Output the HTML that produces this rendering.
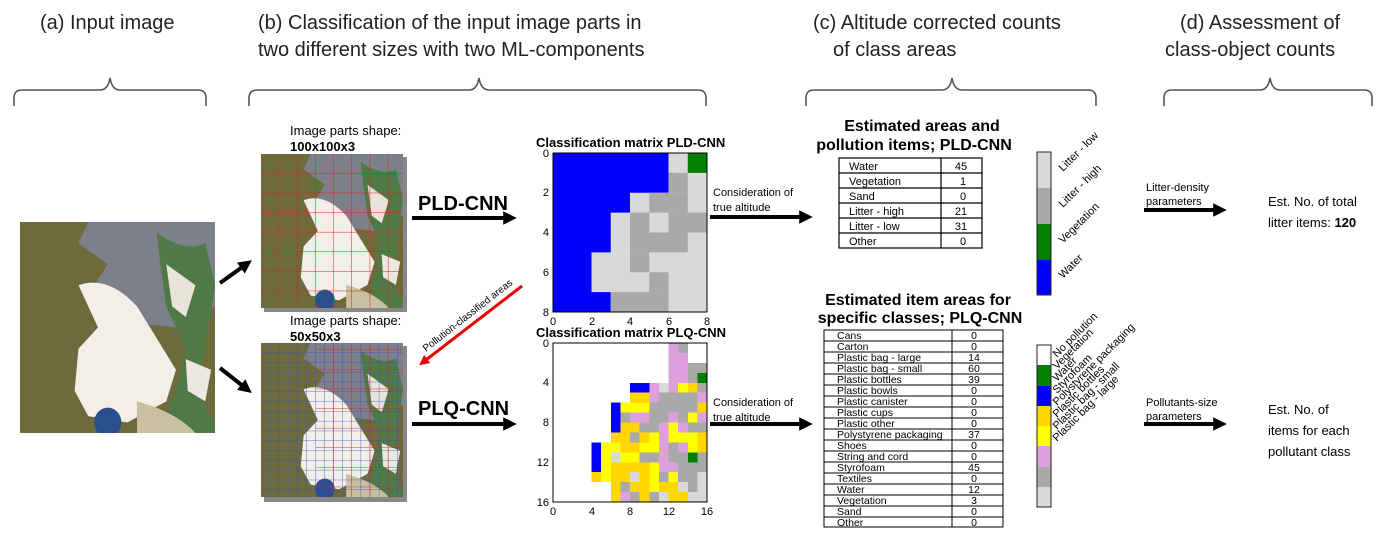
<!DOCTYPE html>
<html><head><meta charset="utf-8"><style>
html,body{margin:0;padding:0;background:#fff}
svg{display:block;font-family:"Liberation Sans",Arial,sans-serif}
</style></head><body>
<svg width="1386" height="536" viewBox="0 0 1386 536">
<defs>
<marker id="ah" markerWidth="4" markerHeight="4" refX="2.2" refY="2" orient="auto" markerUnits="strokeWidth"><path d="M0,0.3 L3.4,2 L0,3.7 z" fill="#000"/></marker>
<marker id="ahr" markerWidth="4" markerHeight="4" refX="2.2" refY="2" orient="auto" markerUnits="strokeWidth"><path d="M0,0.3 L3.4,2 L0,3.7 z" fill="#e00"/></marker>
<pattern id="rg" width="18.2" height="19.6" patternUnits="userSpaceOnUse" x="261" y="154"><path d="M18.2 0V19.6M0 19.6H18.2" stroke="#e02020" stroke-width="1" fill="none"/></pattern>
<pattern id="bg2" width="9.1" height="9.8" patternUnits="userSpaceOnUse" x="261" y="343"><path d="M9.1 0V9.8M0 9.8H9.1" stroke="#3050d0" stroke-width="0.8" fill="none"/></pattern>
<g id="photo">
<rect x="0" y="0" width="100" height="100" fill="#6e6a3c"/>
<path d="M35 0H100V40L80 50 60 48 50 40 38 30 45 20 30 10z" fill="#7d7f8a"/>
<path d="M30 30 Q45 25 60 40 L70 55 80 70 75 85 55 95 35 92 28 80 30 60 40 50z" fill="#f2efe8"/>
<path d="M70 5 Q85 15 95 10 L100 30 95 60 90 80 100 95 V100H70 L80 80 85 60 75 40 72 20z" fill="#4f7a45"/>
<path d="M75 20 L90 30 85 45 78 40z" fill="#e8e4dc"/>
<path d="M85 65 L98 70 95 85 86 80z" fill="#ece8e0"/>
<circle cx="45" cy="95" r="7" fill="#2b4f8e"/>
<path d="M60 85 Q80 90 90 100 H60z" fill="#c8c0a0"/>
</g>
</defs>

<g font-size="20" fill="#222">
<text x="40" y="29">(a) Input image</text>
<text x="258" y="29">(b) Classification of the input image parts  in</text>
<text x="258" y="56">two different sizes with two ML-components</text>
<text x="813" y="29">(c) Altitude corrected counts</text>
<text x="833" y="56">of class areas</text>
<text x="1180" y="29">(d) Assessment of</text>
<text x="1165" y="56">class-object counts</text>
</g>
<g fill="none" stroke="#555" stroke-width="1.6">
<path d="M14 106 V98 Q14 90 22 90 H100 Q108 90 110 78 Q112 90 120 90 H198 Q206 90 206 98 V106"/>
<path d="M249 106 V98 Q249 90 257 90 H469 Q477 90 479 78 Q481 90 489 90 H698 Q706 90 706 98 V106"/>
<path d="M806 106 V98 Q806 90 814 90 H942 Q950 90 952 78 Q954 90 962 90 H1088 Q1096 90 1096 98 V106"/>
<path d="M1164 106 V98 Q1164 90 1172 90 H1260 Q1268 90 1270 78 Q1272 90 1280 90 H1364 Q1372 90 1372 98 V106"/>
</g>

<svg x="20" y="222" width="195" height="211" viewBox="0 0 100 100" preserveAspectRatio="none"><use href="#photo"/></svg>
<line x1="220" y1="283" x2="248" y2="263" stroke="#000" stroke-width="4" marker-end="url(#ah)"/>
<line x1="220" y1="368" x2="248" y2="390" stroke="#000" stroke-width="4" marker-end="url(#ah)"/>

<text x="290" y="135" font-size="13">Image parts shape:</text>
<text x="290" y="151" font-size="13" font-weight="bold">100x100x3</text>
<rect x="264" y="157" width="143" height="155" fill="#888"/>
<svg x="261" y="154" width="142" height="154" viewBox="0 0 100 100" preserveAspectRatio="none"><use href="#photo"/></svg>
<rect x="261" y="154" width="142" height="154" fill="url(#rg)"/>
<text x="290" y="325" font-size="13">Image parts shape:</text>
<text x="290" y="341" font-size="13" font-weight="bold">50x50x3</text>
<rect x="264" y="346" width="143" height="156" fill="#888"/>
<svg x="261" y="343" width="142" height="154" viewBox="0 0 100 100" preserveAspectRatio="none"><use href="#photo"/></svg>
<rect x="261" y="343" width="142" height="154" fill="url(#bg2)"/>
<rect x="316" y="343" width="87" height="154" fill="url(#rg)" opacity="0.9"/>

<text x="418" y="210" font-size="20" font-weight="bold">PLD-CNN</text>
<line x1="412" y1="218" x2="512" y2="218" stroke="#000" stroke-width="4" marker-end="url(#ah)"/>
<text x="418" y="415" font-size="20" font-weight="bold">PLQ-CNN</text>
<line x1="412" y1="424" x2="512" y2="424" stroke="#000" stroke-width="4" marker-end="url(#ah)"/>
<line x1="522" y1="286" x2="422" y2="363" stroke="#e00" stroke-width="3" marker-end="url(#ahr)"/>
<text font-size="10" transform="translate(426 352) rotate(-38)">Pollution-classified areas</text>

<text x="536" y="147" font-size="13" font-weight="bold">Classification matrix PLD-CNN</text>
<svg x="553" y="153" width="154" height="159" viewBox="0 0 8 8" preserveAspectRatio="none">
<rect width="8" height="8" fill="#d9d9d9"/>
<polygon points="0,0 6,0 6,2 4,2 4,3 3,3 3,5 2,5 2,7 3,7 3,8 0,8" fill="#0000ff"/>
<rect x="7" y="0" width="1" height="1" fill="#007f00"/>
<g fill="#a9a9a9">
<rect x="6" y="1" width="1" height="1"/><rect x="5" y="2" width="2" height="1"/>
<rect x="4" y="3" width="1" height="1"/><rect x="6" y="3" width="2" height="1"/>
<rect x="4" y="4" width="3" height="1"/><rect x="4" y="5" width="1" height="1"/>
<rect x="5" y="6" width="1" height="1"/><rect x="3" y="7" width="3" height="1"/>
</g></svg>
<rect x="553" y="153" width="154" height="159" fill="none" stroke="#000" stroke-width="1"/>
<g font-size="11" text-anchor="end">
<text x="549" y="157">0</text><text x="549" y="196">2</text><text x="549" y="236">4</text><text x="549" y="276">6</text><text x="549" y="316">8</text>
</g>
<g font-size="11" text-anchor="middle">
<text x="553" y="325">0</text><text x="592" y="325">2</text><text x="630" y="325">4</text><text x="669" y="325">6</text><text x="707" y="325">8</text>
</g>

<text x="536" y="337" font-size="13" font-weight="bold">Classification matrix PLQ-CNN</text>
<svg x="553" y="343" width="154" height="159" viewBox="0 0 16 16" preserveAspectRatio="none" shape-rendering="crispEdges">
<rect width="16" height="16" fill="#fff"/>
<g fill="#dda0dd">
<rect x="12" y="0" width="1" height="1"/><rect x="12" y="1" width="2" height="2"/><rect x="12" y="3" width="2" height="1"/>
<rect x="10" y="4" width="1" height="2"/><rect x="12" y="4" width="1" height="1"/><rect x="15" y="5" width="1" height="1"/>
<rect x="8" y="7" width="2" height="1"/><rect x="12" y="7" width="1" height="1"/><rect x="15" y="7" width="1" height="1"/>
<rect x="11" y="8" width="1" height="1"/><rect x="13" y="8" width="1" height="1"/><rect x="11" y="9" width="1" height="3"/>
<rect x="13" y="10" width="1" height="1"/><rect x="11" y="12" width="2" height="1"/><rect x="7" y="15" width="1" height="1"/>
</g>
<g fill="#a9a9a9">
<rect x="13" y="0" width="1" height="1"/><rect x="14" y="2" width="2" height="1"/><rect x="14" y="3" width="1" height="1"/>
<rect x="15" y="4" width="1" height="1"/><rect x="11" y="5" width="4" height="1"/><rect x="10" y="6" width="5" height="1"/>
<rect x="7" y="7" width="1" height="1"/><rect x="10" y="7" width="2" height="1"/><rect x="13" y="7" width="1" height="1"/>
<rect x="9" y="8" width="2" height="1"/><rect x="14" y="8" width="2" height="1"/><rect x="8" y="9" width="1" height="1"/>
<rect x="12" y="10" width="1" height="1"/><rect x="9" y="11" width="2" height="1"/><rect x="12" y="11" width="2" height="1"/>
<rect x="15" y="11" width="1" height="1"/><rect x="13" y="12" width="3" height="1"/><rect x="11" y="13" width="1" height="1"/>
<rect x="13" y="13" width="2" height="1"/><rect x="7" y="14" width="1" height="1"/><rect x="14" y="14" width="1" height="1"/>
<rect x="8" y="15" width="1" height="1"/><rect x="10" y="15" width="1" height="1"/>
</g>
<g fill="#d9d9d9">
<rect x="11" y="4" width="1" height="1"/><rect x="6" y="11" width="1" height="1"/><rect x="8" y="13" width="1" height="1"/>
<rect x="15" y="13" width="1" height="2"/><rect x="13" y="14" width="1" height="1"/><rect x="11" y="15" width="1" height="1"/>
<rect x="14" y="15" width="2" height="1"/>
</g>
<g fill="#ffff00">
<rect x="13" y="4" width="1" height="1"/><rect x="7" y="6" width="3" height="1"/><rect x="14" y="7" width="1" height="1"/>
<rect x="12" y="8" width="1" height="1"/><rect x="10" y="9" width="1" height="1"/><rect x="12" y="9" width="3" height="1"/>
<rect x="5" y="10" width="2" height="1"/><rect x="9" y="10" width="2" height="1"/><rect x="14" y="10" width="1" height="1"/>
<rect x="5" y="11" width="1" height="2"/><rect x="7" y="11" width="2" height="1"/><rect x="10" y="12" width="1" height="2"/>
<rect x="5" y="13" width="1" height="1"/><rect x="12" y="13" width="1" height="1"/><rect x="10" y="14" width="1" height="1"/>
</g>
<g fill="#ffd700">
<rect x="14" y="4" width="1" height="1"/><rect x="8" y="5" width="2" height="1"/><rect x="15" y="6" width="1" height="1"/>
<rect x="7" y="8" width="2" height="1"/><rect x="6" y="9" width="2" height="1"/><rect x="9" y="9" width="1" height="1"/>
<rect x="15" y="9" width="1" height="2"/><rect x="7" y="10" width="2" height="1"/><rect x="6" y="12" width="4" height="1"/>
<rect x="4" y="13" width="1" height="1"/><rect x="6" y="13" width="2" height="1"/><rect x="9" y="13" width="1" height="1"/>
<rect x="6" y="14" width="1" height="2"/><rect x="8" y="14" width="2" height="1"/><rect x="11" y="14" width="2" height="1"/>
<rect x="9" y="15" width="1" height="1"/><rect x="12" y="15" width="2" height="1"/>
</g>
<g fill="#0000ff"><rect x="8" y="4" width="2" height="1"/><rect x="6" y="6" width="1" height="3"/><rect x="4" y="10" width="1" height="3"/></g>
<g fill="#007f00"><rect x="15" y="3" width="1" height="1"/><rect x="14" y="11" width="1" height="1"/></g>
</svg>
<rect x="553" y="343" width="154" height="159" fill="none" stroke="#000" stroke-width="1"/>
<g font-size="11" text-anchor="end">
<text x="549" y="347">0</text><text x="549" y="386">4</text><text x="549" y="426">8</text><text x="549" y="466">12</text><text x="549" y="506">16</text>
</g>
<g font-size="11" text-anchor="middle">
<text x="553" y="515">0</text><text x="592" y="515">4</text><text x="630" y="515">8</text><text x="669" y="515">12</text><text x="707" y="515">16</text>
</g>

<text x="713" y="196" font-size="11">Consideration of</text>
<text x="713" y="211" font-size="11">true altitude</text>
<line x1="710" y1="217" x2="808" y2="217" stroke="#000" stroke-width="4" marker-end="url(#ah)"/>
<text x="713" y="406" font-size="11">Consideration of</text>
<text x="713" y="421" font-size="11">true altitude</text>
<line x1="710" y1="424" x2="808" y2="424" stroke="#000" stroke-width="4" marker-end="url(#ah)"/>

<text x="922" y="131" font-size="16" font-weight="bold" text-anchor="middle">Estimated areas and</text>
<text x="914" y="150" font-size="16" font-weight="bold" text-anchor="middle">pollution items; PLD-CNN</text>
<g fill="none" stroke="#000" stroke-width="1.2">
<rect x="839" y="158" width="143" height="90"/>
<line x1="941" y1="158" x2="941" y2="248"/>
<line x1="839" y1="173" x2="982" y2="173"/><line x1="839" y1="188" x2="982" y2="188"/>
<line x1="839" y1="203" x2="982" y2="203"/><line x1="839" y1="218" x2="982" y2="218"/>
<line x1="839" y1="233" x2="982" y2="233"/>
</g>
<g font-size="11">
<text x="849" y="170">Water</text><text x="849" y="185">Vegetation</text><text x="849" y="200">Sand</text>
<text x="849" y="215">Litter - high</text><text x="849" y="230">Litter - low</text><text x="849" y="245">Other</text>
</g>
<g font-size="11" text-anchor="middle">
<text x="961" y="170">45</text><text x="963" y="185">1</text><text x="963" y="200">0</text>
<text x="961" y="215">21</text><text x="961" y="230">31</text><text x="963" y="245">0</text>
</g>

<text x="918" y="305" font-size="16" font-weight="bold" text-anchor="middle">Estimated item areas for</text>
<text x="920" y="323" font-size="16" font-weight="bold" text-anchor="middle">specific classes; PLQ-CNN</text>
<g fill="none" stroke="#000" stroke-width="1">
<rect x="824" y="330" width="179" height="197"/>
<line x1="952" y1="330" x2="952" y2="527"/>
<path d="M824 341H1003M824 352H1003M824 363H1003M824 374H1003M824 385H1003M824 396H1003M824 407H1003M824 418H1003M824 429H1003M824 440H1003M824 451H1003M824 462H1003M824 473H1003M824 484H1003M824 495H1003M824 506H1003M824 517H1003"/>
</g>
<g font-size="10.5">
<text x="837" y="339">Cans</text><text x="837" y="350">Carton</text><text x="837" y="361">Plastic bag - large</text>
<text x="837" y="372">Plastic bag - small</text><text x="837" y="383">Plastic bottles</text><text x="837" y="394">Plastic bowls</text>
<text x="837" y="405">Plastic canister</text><text x="837" y="416">Plastic cups</text><text x="837" y="427">Plastic other</text>
<text x="837" y="438">Polystyrene packaging</text><text x="837" y="449">Shoes</text><text x="837" y="460">String and cord</text>
<text x="837" y="471">Styrofoam</text><text x="837" y="482">Textiles</text><text x="837" y="493">Water</text>
<text x="837" y="504">Vegetation</text><text x="837" y="515">Sand</text><text x="837" y="526">Other</text>
</g>
<g font-size="10.5" text-anchor="middle">
<text x="974" y="339">0</text><text x="974" y="350">0</text><text x="974" y="361">14</text>
<text x="974" y="372">60</text><text x="974" y="383">39</text><text x="974" y="394">0</text>
<text x="974" y="405">0</text><text x="974" y="416">0</text><text x="974" y="427">0</text>
<text x="974" y="438">37</text><text x="974" y="449">0</text><text x="974" y="460">0</text>
<text x="974" y="471">45</text><text x="974" y="482">0</text><text x="974" y="493">12</text>
<text x="974" y="504">3</text><text x="974" y="515">0</text><text x="974" y="526">0</text>
</g>

<rect x="1037" y="152" width="14" height="36" fill="#d9d9d9"/>
<rect x="1037" y="188" width="14" height="36" fill="#a9a9a9"/>
<rect x="1037" y="224" width="14" height="36" fill="#007f00"/>
<rect x="1037" y="260" width="14" height="35" fill="#0000ff"/>
<rect x="1037" y="152" width="14" height="143" fill="none" stroke="#222" stroke-width="1"/>
<g font-size="11">
<text transform="translate(1063 172) rotate(-45)">Litter - low</text>
<text transform="translate(1063 208) rotate(-45)">Litter - high</text>
<text transform="translate(1063 244) rotate(-45)">Vegetation</text>
<text transform="translate(1063 279) rotate(-45)">Water</text>
</g>
<rect x="1037" y="345" width="14" height="20" fill="#fff"/>
<rect x="1037" y="365" width="14" height="21" fill="#007f00"/>
<rect x="1037" y="386" width="14" height="20" fill="#0000ff"/>
<rect x="1037" y="406" width="14" height="20" fill="#ffd700"/>
<rect x="1037" y="426" width="14" height="20" fill="#ffff00"/>
<rect x="1037" y="446" width="14" height="21" fill="#dda0dd"/>
<rect x="1037" y="467" width="14" height="20" fill="#a9a9a9"/>
<rect x="1037" y="487" width="14" height="20" fill="#d9d9d9"/>
<rect x="1037" y="345" width="14" height="162" fill="none" stroke="#222" stroke-width="1"/>
<g font-size="11">
<text transform="translate(1057 358) rotate(-45)">No pollution</text>
<text transform="translate(1057 370) rotate(-45)">Vegetation</text>
<text transform="translate(1057 382) rotate(-45)">Water</text>
<text transform="translate(1057 394) rotate(-45)">Styrofoam</text>
<text transform="translate(1057 406) rotate(-45)">Polystyrene packaging</text>
<text transform="translate(1057 418) rotate(-45)">Plastic bottles</text>
<text transform="translate(1057 430) rotate(-45)">Plastic bag - small</text>
<text transform="translate(1057 442) rotate(-45)">Plastic bag - large</text>
</g>

<text x="1146" y="191" font-size="11">Litter-density</text>
<text x="1146" y="205" font-size="11">parameters</text>
<line x1="1144" y1="210" x2="1222" y2="210" stroke="#000" stroke-width="4" marker-end="url(#ah)"/>
<text x="1268" y="206" font-size="13">Est. No. of total</text>
<text x="1268" y="227" font-size="13">litter items: <tspan font-weight="bold">120</tspan></text>
<text x="1146" y="406" font-size="11">Pollutants-size</text>
<text x="1146" y="420" font-size="11">parameters</text>
<line x1="1144" y1="424" x2="1222" y2="424" stroke="#000" stroke-width="4" marker-end="url(#ah)"/>
<text x="1268" y="414" font-size="13">Est. No. of</text>
<text x="1268" y="435" font-size="13">items for each</text>
<text x="1268" y="456" font-size="13">pollutant class</text>
</svg>
</body></html>
